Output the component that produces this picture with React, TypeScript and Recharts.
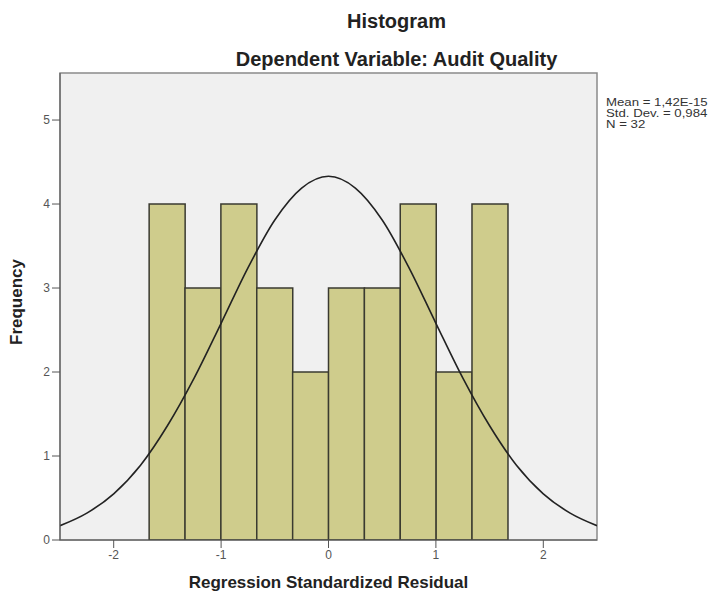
import React from 'react';
import { ComposedChart, Bar, Line, XAxis, YAxis, ReferenceArea } from 'recharts';

// histogram bins (10 equal bins between -1.67 and 1.67)
const binCenters = [-1.503, -1.169, -0.835, -0.501, -0.167, 0.167, 0.501, 0.835, 1.169, 1.503];
const binCounts = [4, 3, 4, 3, 2, 3, 3, 4, 2, 4];
const binWidth = 0.334;

// normal curve
const curveX = [-2.5, -2.25, -2, -1.75, -1.5, -1.25, -1, -0.75, -0.5, -0.25, 0, 0.25, 0.5, 0.75, 1, 1.25, 1.5, 1.75, 2, 2.25, 2.5];
const curveY = [0.17, 0.32, 0.55, 0.89, 1.36, 1.93, 2.58, 3.24, 3.81, 4.19, 4.33, 4.19, 3.81, 3.24, 2.58, 1.93, 1.36, 0.89, 0.55, 0.32, 0.17];

const xTicks = [-2, -1, 0, 1, 2];
const yTicks = [0, 1, 2, 3, 4, 5];
const stats = ['Mean = 1,42E-15', 'Std. Dev. = 0,984', 'N = 32'];

const xMin = -2.5;
const xMax = 2.5;
const yMax = 5.56;

const binData = binCenters.map((x, i) => ({ x, count: binCounts[i] }));
const curveData = curveX.map((x, i) => ({ x, curve: curveY[i] }));

// plot area is 537px wide; the bins axis is padded so bins line up with the numeric axis
const plotW = 537;
const binPad = (plotW * (binCenters[0] - binWidth / 2 - xMin)) / (xMax - xMin);
const binPadR = (plotW * (xMax - binCenters[binCenters.length - 1] - binWidth / 2)) / (xMax - xMin);

const font = '"Liberation Sans", Arial, sans-serif';
const titleStyle: React.CSSProperties = {
  position: 'absolute',
  left: 0,
  width: 715,
  textAlign: 'center',
  paddingLeft: 78,
  boxSizing: 'border-box',
  fontSize: 20,
  fontWeight: 'bold',
  color: '#222',
};

export default function App() {
  return (
    <div style={{ position: 'absolute', left: 0, top: 0, width: 715, height: 599, background: '#fff', fontFamily: font }}>
      <div style={{ ...titleStyle, top: 10 }}>Histogram</div>
      <div style={{ ...titleStyle, top: 48 }}>Dependent Variable: Audit Quality</div>
      <div
        style={{
          position: 'absolute',
          left: 606,
          top: 97,
          fontSize: 11,
          lineHeight: '11px',
          color: '#333',
          transform: 'scaleX(1.2)',
          transformOrigin: 'left top',
          whiteSpace: 'nowrap',
        }}
      >
        {stats.map((s) => (
          <div key={s}>{s}</div>
        ))}
      </div>
      <div style={{ position: 'absolute', left: 17, top: 302, transform: 'translate(-50%, -50%) rotate(-90deg)', fontSize: 17, fontWeight: 'bold', color: '#222', whiteSpace: 'nowrap' }}>
        Frequency
      </div>
      <div style={{ position: 'absolute', left: 60, width: 537, top: 573, textAlign: 'center', fontSize: 17, fontWeight: 'bold', color: '#222' }}>
        Regression Standardized Residual
      </div>
      <div style={{ position: 'absolute', left: 0, top: 0 }}>
        <ComposedChart width={715} height={599} data={binData} barCategoryGap={0} barGap={0} margin={{ top: 73, right: 118, bottom: 29, left: 20 }}>
          <XAxis
            xAxisId="num"
            dataKey="x"
            type="number"
            domain={[xMin, xMax]}
            ticks={xTicks}
            allowDataOverflow
            height={30}
            tickSize={8}
            tick={{ fill: '#555', fontSize: 12, fontFamily: font }}
            tickLine={{ stroke: '#555' }}
            axisLine={{ stroke: '#555' }}
          />
          <XAxis xAxisId="bins" dataKey="x" type="category" hide height={0} padding={{ left: binPad, right: binPadR }} />
          <YAxis
            type="number"
            domain={[0, yMax]}
            ticks={yTicks}
            allowDataOverflow
            width={40}
            tickSize={8}
            tick={{ fill: '#555', fontSize: 12, fontFamily: font }}
            tickLine={{ stroke: '#555' }}
            axisLine={{ stroke: '#555' }}
          />
          <ReferenceArea xAxisId="num" x1={xMin} x2={xMax} y1={0} y2={yMax} fill="#f0f0f0" fillOpacity={1} stroke="#8a8a8a" strokeWidth={1.5} />
          <Bar xAxisId="bins" dataKey="count" fill="#cfcc8c" stroke="#3a3a30" strokeWidth={1.5} isAnimationActive={false} />
          <Line xAxisId="num" data={curveData} dataKey="curve" type="monotone" stroke="#222" strokeWidth={1.6} dot={false} isAnimationActive={false} />
        </ComposedChart>
      </div>
    </div>
  );
}
